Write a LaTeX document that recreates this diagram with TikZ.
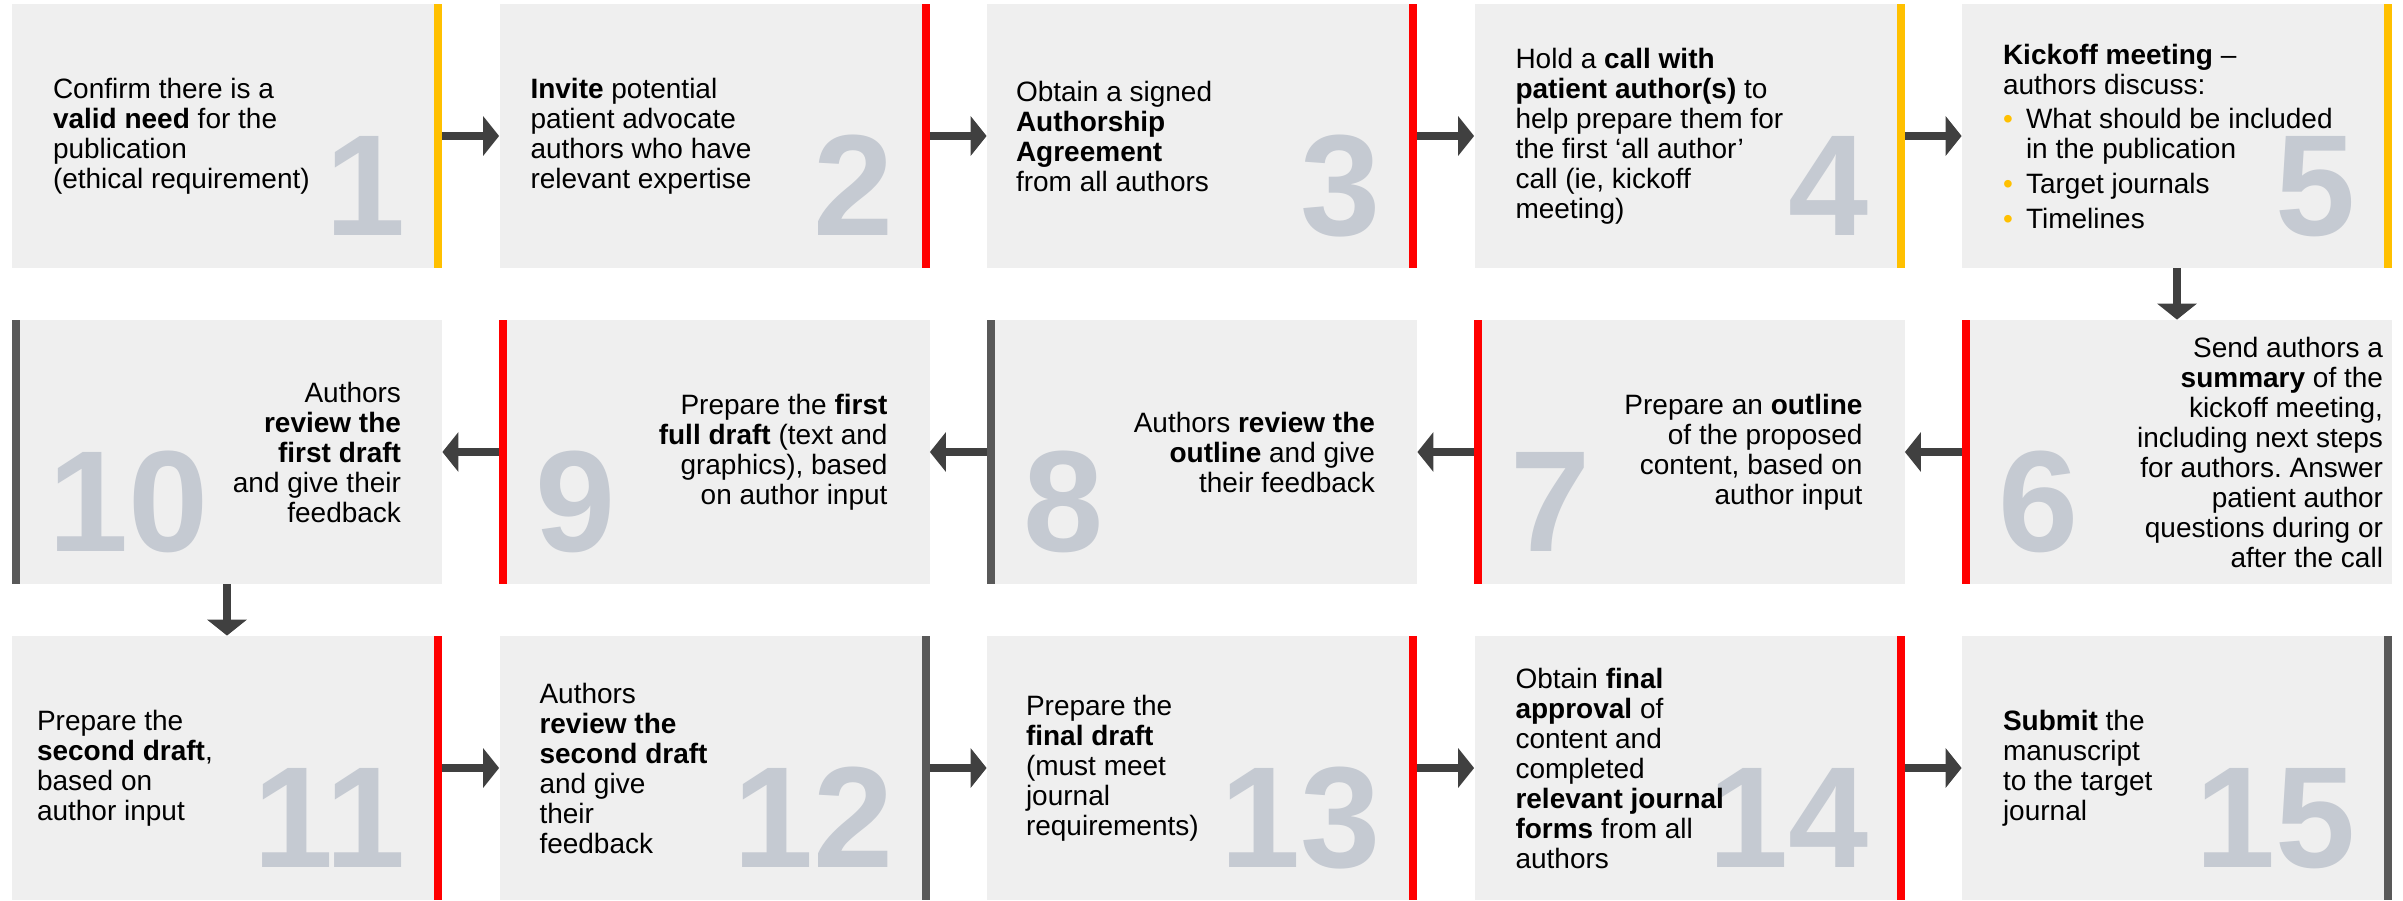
\documentclass[tikz,border=0pt]{standalone}
\usepackage{fontspec}
\setmainfont{Liberation Sans}
\usetikzlibrary{arrows.meta}
\definecolor{boxgrey}{HTML}{EFEFEF}
\definecolor{numgrey}{HTML}{C5CAD2}
\definecolor{baryellow}{HTML}{FFC000}
\definecolor{barred}{HTML}{FF0000}
\definecolor{bardark}{HTML}{595959}
\definecolor{arrowgrey}{HTML}{404040}
\newcommand{\bul}{\makebox[11.5pt][l]{\textcolor{baryellow}{\textbullet}}}
\frenchspacing

\begin{document}
\begin{tikzpicture}[x=0.5pt,y=-0.5pt]
  \tikzstyle{stepbox}=[rectangle,fill=boxgrey,minimum width=215pt,minimum height=132pt,inner sep=0pt]
  \tikzstyle{num}=[inner sep=0pt,text=numgrey,font=\fontsize{72}{72}\selectfont\bfseries]
  \tikzstyle{txt}=[inner sep=0pt,font=\fontsize{14}{15}\selectfont]
  \tikzstyle{flow}=[draw=arrowgrey,color=arrowgrey,line width=4pt,-{Triangle[length=8pt,width=19.5pt]}]
  \useasboundingbox (0,0) rectangle (2403,900);

  % boxes
  \node [stepbox] (b1) at (227,136) {};
  \node [stepbox] (b2) at (714.5,136) {};
  \node [stepbox] (b3) at (1202,136) {};
  \node [stepbox] (b4) at (1689.5,136) {};
  \node [stepbox] (b5) at (2177,136) {};
  \node [stepbox] (b6) at (2177,452) {};
  \node [stepbox] (b7) at (1689.5,452) {};
  \node [stepbox] (b8) at (1202,452) {};
  \node [stepbox] (b9) at (714.5,452) {};
  \node [stepbox] (b10) at (227,452) {};
  \node [stepbox] (b11) at (227,768) {};
  \node [stepbox] (b12) at (714.5,768) {};
  \node [stepbox] (b13) at (1202,768) {};
  \node [stepbox] (b14) at (1689.5,768) {};
  \node [stepbox] (b15) at (2177,768) {};

  % coloured bars
  \fill[baryellow] ([xshift=-4pt]b1.north east) rectangle (b1.south east);
  \fill[barred] ([xshift=-4pt]b2.north east) rectangle (b2.south east);
  \fill[barred] ([xshift=-4pt]b3.north east) rectangle (b3.south east);
  \fill[baryellow] ([xshift=-4pt]b4.north east) rectangle (b4.south east);
  \fill[baryellow] ([xshift=-4pt]b5.north east) rectangle (b5.south east);
  \fill[barred] (b6.north west) rectangle ([xshift=4pt]b6.south west);
  \fill[barred] (b7.north west) rectangle ([xshift=4pt]b7.south west);
  \fill[bardark] (b8.north west) rectangle ([xshift=4pt]b8.south west);
  \fill[barred] (b9.north west) rectangle ([xshift=4pt]b9.south west);
  \fill[bardark] (b10.north west) rectangle ([xshift=4pt]b10.south west);
  \fill[barred] ([xshift=-4pt]b11.north east) rectangle (b11.south east);
  \fill[bardark] ([xshift=-4pt]b12.north east) rectangle (b12.south east);
  \fill[barred] ([xshift=-4pt]b13.north east) rectangle (b13.south east);
  \fill[barred] ([xshift=-4pt]b14.north east) rectangle (b14.south east);
  \fill[bardark] ([xshift=-4pt]b15.north east) rectangle (b15.south east);

  % step numbers
  \node [num,anchor=base east] (n1) at ([xshift=-18pt,yshift=16.5pt]b1.south east) {1};
  \node [num,anchor=base east] (n2) at ([xshift=-18pt,yshift=16.5pt]b2.south east) {2};
  \node [num,anchor=base east] (n3) at ([xshift=-18pt,yshift=16.5pt]b3.south east) {3};
  \node [num,anchor=base east] (n4) at ([xshift=-18pt,yshift=16.5pt]b4.south east) {4};
  \node [num,anchor=base east] (n5) at ([xshift=-18pt,yshift=16.5pt]b5.south east) {5};
  \node [num,anchor=base west] (n6) at ([xshift=18pt,yshift=16.5pt]b6.south west) {6};
  \node [num,anchor=base west] (n7) at ([xshift=18pt,yshift=16.5pt]b7.south west) {7};
  \node [num,anchor=base west] (n8) at ([xshift=18pt,yshift=16.5pt]b8.south west) {8};
  \node [num,anchor=base west] (n9) at ([xshift=18pt,yshift=16.5pt]b9.south west) {9};
  \node [num,anchor=base west] (n10) at ([xshift=18pt,yshift=16.5pt]b10.south west) {10};
  \node [num,anchor=base east] (n11) at ([xshift=-18pt,yshift=16.5pt]b11.south east) {11};
  \node [num,anchor=base east] (n12) at ([xshift=-18pt,yshift=16.5pt]b12.south east) {12};
  \node [num,anchor=base east] (n13) at ([xshift=-18pt,yshift=16.5pt]b13.south east) {13};
  \node [num,anchor=base east] (n14) at ([xshift=-18pt,yshift=16.5pt]b14.south east) {14};
  \node [num,anchor=base east] (n15) at ([xshift=-18pt,yshift=16.5pt]b15.south east) {15};

  % step texts
  \node [txt,anchor=west,align=left] (t1) at ([xshift=20.5pt]b1.west)
    {Confirm there is a\\\textbf{valid need} for the\\publication\\(ethical requirement)};
  \node [txt,anchor=west,align=left] (t2) at ([xshift=15.5pt]b2.west)
    {\textbf{Invite} potential\\patient advocate\\authors who have\\relevant expertise};
  \node [txt,anchor=west,align=left] (t3) at ([xshift=14.5pt]b3.west)
    {Obtain a signed\\\textbf{Authorship}\\\textbf{Agreement}\\from all authors};
  \node [txt,anchor=west,align=left] (t4) at ([xshift=20.5pt]b4.west)
    {Hold a \textbf{call with}\\\textbf{patient author(s)} to\\help prepare them for\\the first ‘all author’\\call (ie, kickoff\\meeting)};
  \node [txt,anchor=west,align=left] (t5) at ([xshift=20.5pt]b5.west)
    {\textbf{Kickoff meeting} –\\authors discuss:\\[2pt]\bul What should be included\\\hspace*{11.5pt}in the publication\\[2.5pt]\bul Target journals\\[2.5pt]\bul Timelines};
  \node [txt,anchor=east,align=right] (t6) at ([xshift=-4.5pt]b6.east)
    {Send authors a\\\textbf{summary} of the\\kickoff meeting,\\including next steps\\for authors. Answer\\patient author\\questions during or\\after the call};
  \node [txt,anchor=east,align=right] (t7) at ([xshift=-21pt]b7.east)
    {Prepare an \textbf{outline}\\of the proposed\\content, based on\\author input};
  \node [txt,anchor=east,align=right] (t8) at ([xshift=-21pt]b8.east)
    {Authors \textbf{review the}\\\textbf{outline} and give\\their feedback};
  \node [txt,anchor=east,align=right] (t9) at ([xshift=-21pt]b9.east)
    {Prepare the \textbf{first}\\\textbf{full draft} (text and\\graphics), based\\on author input};
  \node [txt,anchor=east,align=right] (t10) at ([xshift=-20.5pt]b10.east)
    {Authors\\\textbf{review the}\\\textbf{first draft}\\and give their\\feedback};
  \node [txt,anchor=west,align=left] (t11) at ([xshift=12.5pt]b11.west)
    {Prepare the\\\textbf{second draft},\\based on\\author input};
  \node [txt,anchor=west,align=left] (t12) at ([xshift=20pt]b12.west)
    {Authors\\\textbf{review the}\\\textbf{second draft}\\and give\\their\\feedback};
  \node [txt,anchor=west,align=left] (t13) at ([xshift=19.5pt]b13.west)
    {Prepare the\\\textbf{final draft}\\(must meet\\journal\\requirements)};
  \node [txt,anchor=west,align=left] (t14) at ([xshift=20.5pt]b14.west)
    {Obtain \textbf{final}\\\textbf{approval} of\\content and\\completed\\\textbf{relevant journal}\\\textbf{forms} from all\\authors};
  \node [txt,anchor=west,align=left] (t15) at ([xshift=20.5pt]b15.west)
    {\textbf{Submit} the\\manuscript\\to the target\\journal};

  % arrows
  \draw[flow] (b1) -- (b2);
  \draw[flow] (b2) -- (b3);
  \draw[flow] (b3) -- (b4);
  \draw[flow] (b4) -- (b5);
  \draw[flow] (b5) -- (b6);
  \draw[flow] (b6) -- (b7);
  \draw[flow] (b7) -- (b8);
  \draw[flow] (b8) -- (b9);
  \draw[flow] (b9) -- (b10);
  \draw[flow] (b10) -- (b11);
  \draw[flow] (b11) -- (b12);
  \draw[flow] (b12) -- (b13);
  \draw[flow] (b13) -- (b14);
  \draw[flow] (b14) -- (b15);
\end{tikzpicture}
\end{document}
